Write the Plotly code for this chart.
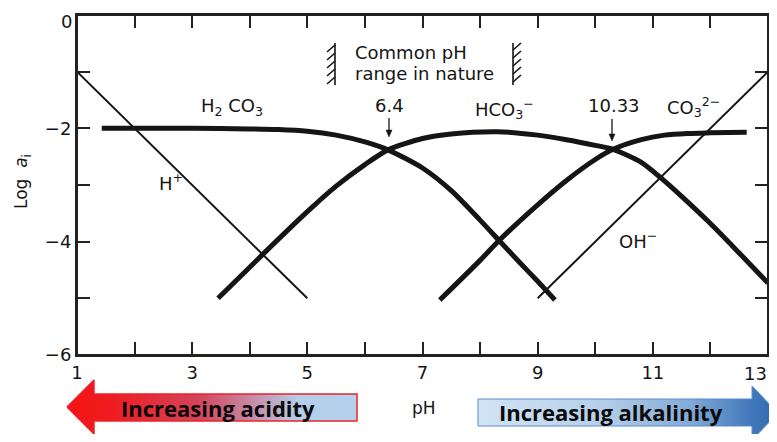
import plotly.graph_objects as go

# ---------------- data ----------------
ph_h = [1.0, 5.0]
log_h = [-1.0, -5.0]

ph_oh = [9.0, 13.0]
log_oh = [-5.0, -1.0]

ph_h2co3 = [1.43, 2.0, 3.0, 4.0, 4.5, 5.0, 5.5, 6.0, 6.4, 7.0, 7.5, 8.0, 8.33, 8.7, 9.0, 9.30]
log_h2co3 = [-2.00, -2.00, -2.00, -2.01, -2.02, -2.05, -2.12, -2.24, -2.38, -2.70, -3.10, -3.62, -3.98, -4.38, -4.70, -5.03]

ph_hco3 = [3.45, 4.0, 4.23, 5.0, 5.5, 6.0, 6.4, 7.0, 7.5, 8.3, 9.0, 9.5, 10.0, 10.31, 10.8, 11.17, 11.5, 12.0, 12.5, 13.0]
log_hco3 = [-5.00, -4.45, -4.22, -3.47, -3.02, -2.64, -2.38, -2.18, -2.10, -2.06, -2.12, -2.20, -2.30, -2.37, -2.60, -2.90, -3.20, -3.68, -4.20, -4.73]

ph_co3 = [7.30, 8.0, 8.33, 9.0, 9.5, 10.0, 10.31, 10.8, 11.2, 11.6, 12.0, 12.63]
log_co3 = [-5.03, -4.33, -3.98, -3.35, -2.92, -2.55, -2.37, -2.20, -2.12, -2.09, -2.08, -2.07]

x_label_vals = [1, 3, 5, 7, 9, 11]
x_label_text = ["1", "3", "5", "7", "9", "11"]
x_edge_label = "13"
y_label_vals = [-6, -4, -2]
y_label_text = ["\u22126", "\u22124", "\u22122"]
y_edge_label = "0"

VW, VH = 777, 442          # browser window
OFF = 8                    # default page body margin
W, H = VW - 2 * OFF, VH - 2 * OFF   # figure fits exactly in the window (no scrollbars)
FONT = "DejaVu Sans"
INK = "#151515"
AX = "#222"

fig = go.Figure()

thin = dict(color=INK, width=2)
thick = dict(color=INK, width=5, shape="spline", smoothing=0.7)

fig.add_trace(go.Scatter(x=ph_h, y=log_h, mode="lines", line=thin, hoverinfo="skip"))
fig.add_trace(go.Scatter(x=ph_oh, y=log_oh, mode="lines", line=thin, hoverinfo="skip"))
fig.add_trace(go.Scatter(x=ph_h2co3, y=log_h2co3, mode="lines", line=thick, hoverinfo="skip"))
fig.add_trace(go.Scatter(x=ph_hco3, y=log_hco3, mode="lines", line=thick, hoverinfo="skip"))
fig.add_trace(go.Scatter(x=ph_co3, y=log_co3, mode="lines", line=thick, hoverinfo="skip"))

# ---------------- bottom arrows (window-pixel overlay axes) ----------------
red_x = [67, 94, 94, 357, 357, 94, 94, 67]
red_y = [407, 380, 394, 394, 421, 421, 434, 407]
fig.add_trace(go.Scatter(
    x=red_x, y=red_y, xaxis="x2", yaxis="y2", mode="lines", fill="toself",
    line=dict(color="#e8242a", width=1.5), hoverinfo="skip",
    fillgradient=dict(type="horizontal", colorscale=[
        [0.0, "#f41414"], [0.15, "#ee1c20"], [0.45, "#d4435a"],
        [0.68, "#c29cb8"], [0.8, "#b5cfea"], [1.0, "#b4d0ec"]]),
))
blue_x = [478, 752, 752, 778, 752, 752, 478, 478]
blue_y = [399, 399, 386, 413, 440, 426, 426, 399]
fig.add_trace(go.Scatter(
    x=blue_x, y=blue_y, xaxis="x2", yaxis="y2", mode="lines", fill="toself",
    line=dict(color="#5a8ccc", width=1), hoverinfo="skip",
    fillgradient=dict(type="horizontal", colorscale=[
        [0.0, "#d2e4f5"], [0.4, "#b6d0ea"], [0.7, "#84acd8"],
        [0.88, "#4a7fc0"], [1.0, "#2d68ae"]]),
))

# ---------------- annotations ----------------
ann = []
def lab(x, y, text, size=18, xanchor="center", yanchor="middle", ref="main", **kw):
    d = dict(x=x, y=y, text=text, showarrow=False, xanchor=xanchor, yanchor=yanchor,
             font=dict(family=FONT, size=size, color=INK))
    if ref == "px":
        d.update(xref="x2", yref="y2")
    else:
        d.update(xref="x", yref="y")
    d.update(kw)
    ann.append(d)

lab(3.69, -1.62, "H<sub>2</sub> CO<sub>3</sub>")
lab(2.87, -2.95, "H<sup>+</sup>", xanchor="right")
lab(6.42, -1.59, "6.4")
lab(8.43, -1.66, "HCO<sub>3</sub><sup>\u2212</sup>")
lab(10.33, -1.59, "10.33")
lab(11.70, -1.62, "CO<sub>3</sub><sup>2\u2212</sup>")
lab(10.74, -3.97, "OH<sup>\u2212</sup>")
lab(5.80, -0.67, "Common pH", xanchor="left")
lab(5.80, -1.04, "range in nature", xanchor="left")

# edge tick labels kept inside the window
lab(769, 373, x_edge_label, ref="px", xanchor="right")
lab(74, 8.5, y_edge_label, ref="px", xanchor="right", yanchor="top")

# axis titles and arrow texts in window-pixel coordinates
lab(22, 182, "Log  <i>a</i><sub>i</sub>", size=17, ref="px", textangle=-90)
lab(424, 408, "pH", size=17, ref="px")
lab(218, 408, "<b>Increasing acidity</b>", ref="px",
    font=dict(family="Open Sans", size=22, color="#0a0a0a"))
lab(611, 412, "<b>Increasing alkalinity</b>", ref="px",
    font=dict(family="Open Sans", size=22, color="#0a0a0a"))

# ---------------- decorations: frame, hatch marks, small arrows ----------------
shapes = [dict(type="rect", xref="x domain", yref="y domain", x0=0, x1=1, y0=0, y1=1,
               line=dict(color=AX, width=2), layer="above")]

def seg(x0, y0, x1, y1, w=1.6):
    shapes.append(dict(type="line", xref="x2", yref="y2", x0=x0, y0=y0, x1=x1, y1=y1,
                       line=dict(color=INK, width=w)))

seg(335, 43, 335, 85)
for y0 in [45, 53, 61, 69, 77]:
    seg(327, y0 + 7, 335, y0)
seg(513, 43, 513, 85)
for y0 in [50, 58, 66, 74, 82]:
    seg(513, y0, 521, y0 - 7)

for xa, yt, yh in [(389, 118, 137), (612, 119, 141)]:
    seg(xa, yt, xa, yh - 5, w=1.3)
    shapes.append(dict(type="path", xref="x2", yref="y2",
                       path=f"M {xa-3},{yh-7} L {xa+3},{yh-7} L {xa},{yh} Z",
                       fillcolor=INK, line=dict(color=INK, width=0.5)))

minor = dict(ticks="inside", ticklen=13, tickwidth=1.5, tickcolor=AX, dtick=1, tick0=0,
             showgrid=False)
axis_common = dict(showgrid=False, zeroline=False, showline=True, linecolor=AX,
                   linewidth=2, ticks="inside", ticklen=13, tickwidth=1.5, tickcolor=AX,
                   mirror="ticks", automargin=False, minor=minor,
                   tickfont=dict(family=FONT, size=18, color=INK))

fig.update_layout(
    template="none",
    width=W, height=H,
    margin=dict(l=0, r=0, t=0, b=0, pad=0, autoexpand=False),
    paper_bgcolor="white", plot_bgcolor="rgba(0,0,0,0)",
    showlegend=False,
    xaxis=dict(domain=[(77 - OFF) / W, (768 - OFF) / W], range=[1, 13], anchor="y",
               tickmode="array", tickvals=x_label_vals, ticktext=x_label_text, **axis_common),
    yaxis=dict(domain=[1 - (355 - OFF) / H, 1 - (15 - OFF) / H], range=[-6, 0], anchor="x",
               tickmode="array", tickvals=y_label_vals, ticktext=y_label_text, **axis_common),
    xaxis2=dict(domain=[0, 1], range=[OFF, W + OFF], anchor="y2", visible=False,
                fixedrange=True, automargin=False),
    yaxis2=dict(domain=[0, 1], range=[H + OFF, OFF], anchor="x2", visible=False,
                fixedrange=True, automargin=False),
    annotations=ann,
    shapes=shapes,
)

fig.write_html("out.html")
